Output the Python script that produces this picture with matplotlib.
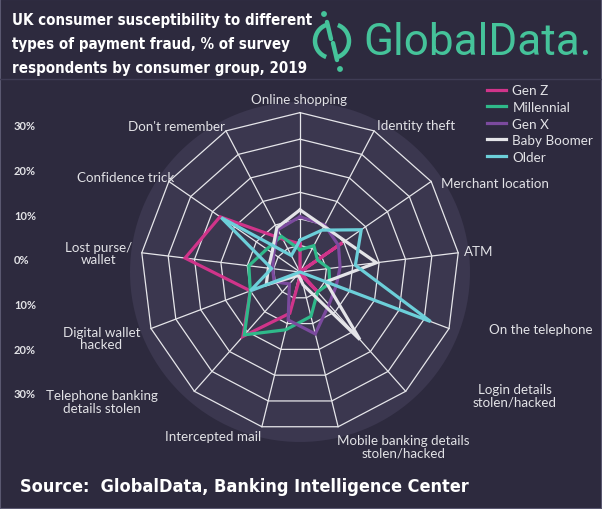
import os
import numpy as np
import matplotlib
matplotlib.use("Agg")
import matplotlib.pyplot as plt
from matplotlib import font_manager
from matplotlib.font_manager import FontProperties
from matplotlib.patches import Arc, Circle, Rectangle

# Data (% of respondents), clockwise from the top
categories = ["Online shopping", "Identity theft", "Merchant location", "ATM",
              "On the telephone", "Login details\nstolen/hacked",
              "Mobile banking details\nstolen/hacked", "Intercepted mail",
              "Telephone banking\ndetails stolen", "Digital wallet\nhacked",
              "Lost purse/\nwallet", "Confidence trick", "Don't remember"]
gen_z = [5.3, 0, 9.7, 0, 0, 4.7, 0.5, 8.0, 16.2, 10.0, 21.8, 18.3, 7.0]
millennial = [4.2, 5.6, 4.0, 5.5, 6.0, 5.0, 8.6, 11.2, 15.8, 10.0, 9.7, 7.6, 7.6]
gen_x = [10.4, 10.0, 8.8, 7.6, 7.3, 8.2, 12.0, 9.3, 3.0, 5.2, 5.2, 6.0, 9.0]
baby_boomer = [11.7, 9.7, 10.3, 14.5, 5.2, 17.0, 2.5, 0.8, 1.0, 6.8, 6.0, 6.4, 9.4]
older = [6.0, 8.9, 14.0, 10.5, 26.3, 0, 0, 0, 0, 10.0, 5.4, 18.0, 3.5]
series_names = ["Gen Z", "Millennial", "Gen X", "Baby Boomer", "Older"]
rings = [5, 10, 15, 20, 25, 30]
side_ticks = ["30%", "20%", "10%", "0%", "10%", "20%", "30%"]
title_lines = ["UK consumer susceptibility to different",
               "types of payment fraud, % of survey",
               "respondents by consumer group, 2019"]

colors = ["#d0348a", "#2fb98a", "#7b4a9e", "#e4e4e8", "#6ccfd9"]
BG = "#2d2a3e"
DISK = "#3b374f"
GRID = "#e6e6ea"
TEXT = "#e2e2e6"
TEAL = "#45c39a"

# look for a condensed / narrow bold face for the headline text
cond = None
for f in font_manager.fontManager.ttflist:
    fn = os.path.basename(f.fname).lower()
    if ("narrow" in fn or "condensed" in fn) and "bold" in fn \
            and "oblique" not in fn and "italic" not in fn:
        cond = f.fname
        break
if cond:
    head_font = FontProperties(fname=cond)
else:
    head_font = FontProperties(family="Roboto", weight="bold")

plt.rcParams["font.family"] = ["Lato", "DejaVu Sans"]

W, H = 602, 510
fig = plt.figure(figsize=(W / 100, H / 100), dpi=100, facecolor=BG)


def fx(x):
    return x / W


def fy(y):
    return 1 - y / H


def fit_width(t, target):
    # scale a text's font size so it spans the wanted pixel width
    fig.canvas.draw()
    w = t.get_window_extent().width
    t.set_fontsize(t.get_fontsize() * target / w)


# radar axes: centre at (300, 273) px, 32 units = 170 px
cx, cy, rad = 300, 273, 170
ax = fig.add_axes([fx(cx - rad), fy(cy + rad), 2 * rad / W, 2 * rad / H],
                  projection="polar")
ax.set_facecolor(DISK)
ax.set_theta_zero_location("N")
ax.set_theta_direction(-1)
ax.set_ylim(0, 32)
ax.grid(False)
ax.set_xticks([])
ax.set_yticks([])
ax.spines["polar"].set_visible(False)

n = len(categories)
angles = np.arange(n) * 2 * np.pi / n
closed = np.append(angles, angles[0])

for r in rings:
    ax.plot(closed, [r] * (n + 1), color=GRID, lw=0.9, zorder=1)
for a in angles:
    ax.plot([a, a], [0, rings[-1]], color=GRID, lw=0.9, zorder=1)

for name, vals, c in zip(series_names,
                         [gen_z, millennial, gen_x, baby_boomer, older], colors):
    ax.plot(closed, vals + vals[:1], color=c, lw=2.3, label=name, zorder=3,
            solid_joinstyle="miter")

# category labels (angle clockwise from top in degrees, radius)
label_pos = [(-0.3, 32.6), (38.3, 35.3), (65.4, 40.3), (83.3, 33.8),
             (103.4, 46.5), (119.9, 46.6), (149.4, 38.2), (207.9, 35.0),
             (236.9, 44.6), (251.6, 39.4), (275.4, 38.1), (298.6, 37.4),
             (319.9, 36.0)]
for lab, (deg, r) in zip(categories, label_pos):
    ax.text(np.deg2rad(deg), r, lab, ha="center", va="center", color=TEXT,
            fontsize=9.6, linespacing=1.05, clip_on=False)

ax.legend(loc="upper left", bbox_to_anchor=(fx(482), fy(80)),
          bbox_transform=fig.transFigure, frameon=False, fontsize=9.7,
          labelcolor=TEXT, handlelength=1.35, handletextpad=0.5,
          labelspacing=0.34, borderaxespad=0)

# side percentage labels
for i, t in enumerate(side_ticks):
    fig.text(fx(14), fy(127 + i * 44.6), t, color=TEXT, fontsize=8,
             fontweight="bold", ha="left", va="center")

# title, one text per line so the line pitch matches
tl = []
for i, line in enumerate(title_lines):
    tl.append(fig.text(fx(12), fy(21 + i * 24), line, color="white",
                       fontproperties=head_font, fontsize=14,
                       ha="left", va="center"))
fit_width(tl[0], 302)
for t in tl[1:]:
    t.set_fontsize(tl[0].get_fontsize())

source = fig.text(fx(20), fy(487),
                  "Source:  GlobalData, Banking Intelligence Center",
                  color="white", fontproperties=head_font, fontsize=13,
                  ha="left", va="center")
fit_width(source, 448)
fig.add_artist(plt.Line2D([0, 1], [fy(80), fy(80)], color="#3f3c54", lw=1))
fig.add_artist(Rectangle((0, 0), 1, 1, transform=fig.transFigure,
                         fill=False, edgecolor="#5a5870", lw=1.5))

# GlobalData logo
lax = fig.add_axes([fx(310), fy(78), 45 / W, 70 / H])
lax.set_xlim(0, 45)
lax.set_ylim(0, 70)
lax.set_aspect("equal")
lax.axis("off")
lax.add_patch(Arc((22, 36), 34, 34, theta1=110, theta2=250, color=TEAL, lw=3.2))
lax.add_patch(Arc((22, 36), 34, 34, theta1=-70, theta2=70, color=TEAL, lw=3.2))
lax.plot([17, 21], [55, 38], color=TEAL, lw=3.2, solid_capstyle="round")
lax.plot([23, 27], [34, 17], color=TEAL, lw=3.2, solid_capstyle="round")
lax.add_patch(Circle((14, 63), 2.2, color=TEAL))
lax.add_patch(Circle((30, 8), 2.2, color=TEAL))
logo = fig.text(fx(363), fy(43), "GlobalData.", color=TEAL, fontsize=30,
                family=["Roboto", "DejaVu Sans"], ha="left", va="center")
fit_width(logo, 227)

fig.savefig("out.png", dpi=100, facecolor=BG)
